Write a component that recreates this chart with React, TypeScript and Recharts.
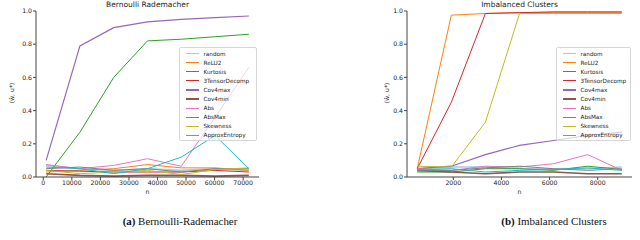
import React from 'react';
import { LineChart, Line, XAxis, YAxis, Legend } from 'recharts';

const seriesNames = ['random', 'ReLU2', 'Kurtosis', '3TensorDecomp', 'Cov4max', 'Cov4min', 'Abs', 'AbsMax', 'Skewness', 'ApproxEntropy'];
const seriesColors = ['#a6cbe6', '#ff7f0e', '#2ca02c', '#d62728', '#9467bd', '#8c564b', '#e377c2', '#7f7f7f', '#bcbd22', '#17becf'];
const seriesWidths = [1.6, 1, 1, 1, 1.2, 1.6, 1, 1, 1, 1];

// (a) Bernoulli-Rademacher
const nLeft = [1000, 12833, 24667, 36500, 48333, 60167, 72000];
const leftRandom = [0.07, 0.05, 0.04, 0.05, 0.04, 0.05, 0.04];
const leftReLU2 = [0.03, 0.04, 0.05, 0.075, 0.055, 0.055, 0.04];
const leftKurtosis = [0.0, 0.27, 0.6, 0.82, 0.83, 0.845, 0.86];
const leftTensor = [0.04, 0.035, 0.03, 0.03, 0.03, 0.04, 0.03];
const leftCov4max = [0.1, 0.79, 0.9, 0.935, 0.95, 0.96, 0.97];
const leftCov4min = [0.02, 0.01, 0.005, 0.01, 0.01, 0.005, 0.01];
const leftAbs = [0.075, 0.05, 0.07, 0.11, 0.065, 0.36, 0.66];
const leftAbsMax = [0.05, 0.06, 0.04, 0.05, 0.03, 0.05, 0.05];
const leftSkewness = [0.04, 0.02, 0.03, 0.04, 0.015, 0.045, 0.055];
const leftEntropy = [0.06, 0.05, 0.02, 0.05, 0.12, 0.25, 0.05];

// (b) Imbalanced Clusters
const nRight = [500, 1917, 3333, 4750, 6167, 7583, 9000];
const rightRandom = [0.05, 0.06, 0.06, 0.05, 0.05, 0.05, 0.06];
const rightReLU2 = [0.05, 0.975, 0.985, 0.99, 0.99, 0.99, 0.99];
const rightKurtosis = [0.03, 0.03, 0.05, 0.05, 0.04, 0.065, 0.045];
const rightTensor = [0.05, 0.45, 0.985, 0.99, 0.995, 0.995, 0.995];
const rightCov4max = [0.05, 0.065, 0.135, 0.19, 0.22, 0.25, 0.27];
const rightCov4min = [0.04, 0.03, 0.02, 0.03, 0.03, 0.02, 0.02];
const rightAbs = [0.05, 0.04, 0.065, 0.06, 0.08, 0.135, 0.04];
const rightAbsMax = [0.04, 0.04, 0.055, 0.065, 0.05, 0.04, 0.05];
const rightSkewness = [0.065, 0.06, 0.33, 0.985, 0.985, 0.985, 0.985];
const rightEntropy = [0.045, 0.05, 0.03, 0.04, 0.045, 0.055, 0.04];

const yTicks = [0, 0.2, 0.4, 0.6, 0.8, 1.0];
const leftXTicks = [0, 10000, 20000, 30000, 40000, 50000, 60000, 70000];
const rightXTicks = [2000, 4000, 6000, 8000];

const leftSeries = [leftRandom, leftReLU2, leftKurtosis, leftTensor, leftCov4max, leftCov4min, leftAbs, leftAbsMax, leftSkewness, leftEntropy];
const rightSeries = [rightRandom, rightReLU2, rightKurtosis, rightTensor, rightCov4max, rightCov4min, rightAbs, rightAbsMax, rightSkewness, rightEntropy];

function buildRows(ns: number[], series: number[][]) {
  return ns.map((n, i) => {
    const row: Record<string, number> = { n };
    seriesNames.forEach((name, k) => {
      row[name] = series[k][i];
    });
    return row;
  });
}

const FONT = '"DejaVu Sans", sans-serif';
const tickStyle = { fontSize: 6.2, fill: '#222', fontFamily: FONT };
const AXIS = '#444';

function LegendBox(props: any) {
  return (
    <div
      style={{
        border: '1px solid #d6d6d6',
        borderRadius: 2,
        background: 'rgba(255,255,255,0.65)',
        padding: '1px 0 0 0',
        boxSizing: 'border-box',
        width: '100%',
        height: '100%',
      }}
    >
      {seriesNames.map((name, k) => (
        <div key={name} style={{ display: 'flex', alignItems: 'center', height: 9.1 }}>
          <div style={{ width: 6 }} />
          <div style={{ width: 13, height: seriesWidths[k], background: seriesColors[k] }} />
          <div style={{ width: 4.5 }} />
          <span style={{ fontSize: 5.7, fontFamily: FONT, color: '#222', whiteSpace: 'nowrap', lineHeight: '8px' }}>{name}</span>
        </div>
      ))}
    </div>
  );
}

type PanelProps = {
  rows: Record<string, number>[];
  domain: [number, number];
  xTicks: number[];
  yAxisWidth: number;
  rightMargin: number;
  legendLeft: number;
  legendWidth: number;
};

function Panel({ rows, domain, xTicks, yAxisWidth, rightMargin, legendLeft, legendWidth }: PanelProps) {
  return (
    <LineChart width={320} height={200} data={rows} margin={{ top: 11, right: rightMargin, bottom: 0, left: 0 }}>
      <XAxis
        dataKey="n"
        type="number"
        domain={domain}
        ticks={xTicks}
        allowDataOverflow
        height={23}
        tick={tickStyle}
        tickSize={3}
        tickMargin={1}
        stroke={AXIS}
        interval={0}
      />
      <XAxis xAxisId="top" orientation="top" type="number" domain={domain} height={0} tick={false} tickLine={false} stroke={AXIS} allowDataOverflow />
      <YAxis
        type="number"
        domain={[0, 1]}
        ticks={yTicks}
        allowDataOverflow
        width={yAxisWidth}
        tick={tickStyle}
        tickSize={3}
        tickMargin={1}
        stroke={AXIS}
        interval={0}
        tickFormatter={(v: number) => v.toFixed(1)}
      />
      <YAxis yAxisId="right" orientation="right" type="number" domain={[0, 1]} width={0} tick={false} tickLine={false} stroke={AXIS} />
      {seriesNames.map((name, k) => (
        <Line
          key={name}
          type="linear"
          dataKey={name}
          stroke={seriesColors[k]}
          strokeWidth={seriesWidths[k]}
          dot={false}
          activeDot={false}
          isAnimationActive={false}
        />
      ))}
      <Legend
        layout="vertical"
        align="center"
        verticalAlign="middle"
        content={(p: any) => <LegendBox {...p} />}
        wrapperStyle={{ left: legendLeft, top: 47, width: legendWidth, height: 94 }}
      />
    </LineChart>
  );
}

const textBase: React.CSSProperties = { position: 'absolute', fontFamily: FONT, color: '#222', whiteSpace: 'nowrap' };

export default function App() {
  const leftRows = buildRows(nLeft, leftSeries);
  const rightRows = buildRows(nRight, rightSeries);
  return (
    <div style={{ position: 'absolute', left: 0, top: 0, width: 640, height: 240, background: '#fff', overflow: 'hidden' }}>
      <div style={{ position: 'absolute', left: 0, top: 0 }}>
        <Panel rows={leftRows} domain={[-2550, 75550]} xTicks={leftXTicks} yAxisWidth={36} rightMargin={61} legendLeft={179} legendWidth={78} />
      </div>
      <div style={{ position: 'absolute', left: 320, top: 0 }}>
        <Panel rows={rightRows} domain={[75, 9425]} xTicks={rightXTicks} yAxisWidth={87} rightMargin={8} legendLeft={236} legendWidth={75} />
      </div>

      <div style={{ ...textBase, left: 147.5, top: 0, transform: 'translateX(-50%)', fontSize: 7.5, lineHeight: '10px' }}>Bernoulli Rademacher</div>
      <div style={{ ...textBase, left: 519.5, top: 0, transform: 'translateX(-50%)', fontSize: 7.5, lineHeight: '10px' }}>Imbalanced Clusters</div>

      <div style={{ ...textBase, left: 147.5, top: 188, transform: 'translateX(-50%)', fontSize: 6.2, lineHeight: '8px' }}>n</div>
      <div style={{ ...textBase, left: 519.5, top: 188, transform: 'translateX(-50%)', fontSize: 6.2, lineHeight: '8px' }}>n</div>

      <div style={{ ...textBase, left: 12, top: 93, transform: 'translate(-50%, -50%) rotate(-90deg)', fontSize: 6.2, lineHeight: '8px' }}>⟨ŵ, u*⟩</div>
      <div style={{ ...textBase, left: 387, top: 93, transform: 'translate(-50%, -50%) rotate(-90deg)', fontSize: 6.2, lineHeight: '8px' }}>⟨ŵ, u*⟩</div>

      <div style={{ ...textBase, left: 180, top: 221, transform: 'translate(-50%, -50%)', fontFamily: '"Liberation Serif", serif', fontSize: 10.9, color: '#111' }}>
        <b>(a)</b> Bernoulli-Rademacher
      </div>
      <div style={{ ...textBase, left: 554, top: 221, transform: 'translate(-50%, -50%)', fontFamily: '"Liberation Serif", serif', fontSize: 10.9, color: '#111' }}>
        <b>(b)</b> Imbalanced Clusters
      </div>
    </div>
  );
}
